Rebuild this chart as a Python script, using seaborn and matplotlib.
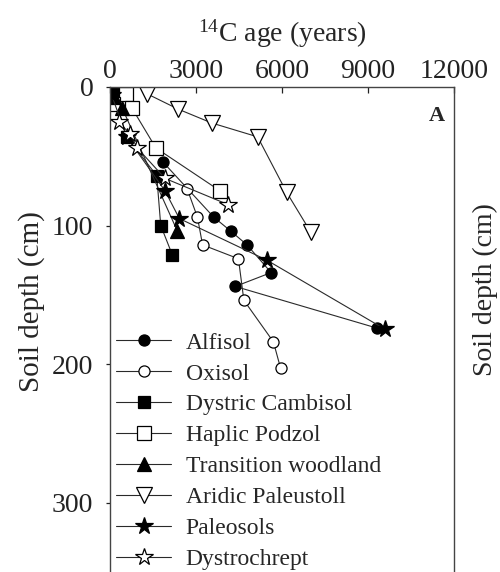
import matplotlib
matplotlib.use("Agg")
import matplotlib.pyplot as plt
import seaborn as sns
import pandas as pd

# 14C age (years) and soil depth (cm) per soil profile
alfisol_age = [1840, 3620, 4210, 4780, 5620, 4370, 9300]
alfisol_depth = [54, 94, 104, 114, 134, 144, 174]

oxisol_age = [2700, 3050, 3230, 4480, 4670, 5700, 5950]
oxisol_depth = [74, 94, 114, 124, 154, 184, 203]

cambisol_age = [100, 580, 1630, 1770, 2170]
cambisol_depth = [4, 36, 64, 100, 121]

podzol_age = [560, 120, 760, 1600, 3840]
podzol_depth = [5, 12, 15, 44, 75]

woodland_age = [150, 420, 2350]
woodland_depth = [7, 15, 104]

paleustoll_age = [1300, 2380, 3550, 5150, 6160, 7010]
paleustoll_depth = [5, 16, 26, 36, 76, 105]

paleosol_age = [60, 580, 1920, 2420, 5470, 9600]
paleosol_depth = [6, 36, 75, 95, 125, 175]

dystrochrept_age = [300, 700, 950, 1920, 4130]
dystrochrept_depth = [25, 34, 44, 66, 85]

series_names = ["Alfisol", "Oxisol", "Dystric Cambisol", "Haplic Podzol",
                "Transition woodland", "Aridic Paleustoll", "Paleosols",
                "Dystrochrept"]
x_ticks = [0, 3000, 6000, 9000, 12000]
y_ticks = [0, 100, 200, 300]

sns.set_style("ticks")
plt.rcParams["font.family"] = ["Liberation Serif", "DejaVu Serif"]
plt.rcParams["mathtext.fontset"] = "custom"
plt.rcParams["mathtext.rm"] = "Liberation Serif"
plt.rcParams["mathtext.it"] = "Liberation Serif:italic"

series = [
    (alfisol_age, alfisol_depth, "o", "black", 8),
    (oxisol_age, oxisol_depth, "o", "white", 8),
    (cambisol_age, cambisol_depth, "s", "black", 8.5),
    (podzol_age, podzol_depth, "s", "white", 9.5),
    (woodland_age, woodland_depth, "^", "black", 10.5),
    (paleustoll_age, paleustoll_depth, "v", "white", 12),
    (paleosol_age, paleosol_depth, "*", "black", 13),
    (dystrochrept_age, dystrochrept_depth, "*", "white", 13),
]

fig = plt.figure(figsize=(5.0, 5.72), dpi=100)
W, H = 500, 572
left, right, top, bottom = 110, 454, 87, 641
ax = fig.add_axes([left / W, 1 - bottom / H, (right - left) / W, (bottom - top) / H])

for name, (age, depth, mk, face, ms) in zip(series_names, series):
    df = pd.DataFrame({"age": age, "depth": depth})
    sns.lineplot(data=df, x="age", y="depth", sort=False, estimator=None,
                 ax=ax, color="#2a2a2a", lw=0.8, marker=mk, markersize=ms,
                 markerfacecolor=face, markeredgecolor="black",
                 markeredgewidth=0.9, label=name)

ax.set_xlim(0, 12000)
ax.set_ylim(400, 0)
ax.set_xticks(x_ticks)
ax.set_yticks(y_ticks)
ax.xaxis.tick_top()
ax.xaxis.set_label_position("top")
ax.tick_params(axis="x", direction="in", length=4, width=0.9, pad=2.5,
               labelsize=20, colors="#222222")
ax.tick_params(axis="y", direction="out", length=3, width=0.9, pad=9,
               labelsize=20, colors="#222222")
for sp in ax.spines.values():
    sp.set_color("#444444")
    sp.set_linewidth(1.0)

ax.set_xlabel(r"$^{14}$C age (years)", fontsize=20, labelpad=12)
ax.set_ylabel("Soil depth (cm)", fontsize=21)
ax.yaxis.set_label_coords(-0.19, (bottom - 302) / (bottom - top))

ax.text(0.975, 0.965, "A", transform=ax.transAxes, ha="right", va="top",
        fontsize=16, fontweight="bold")

# neighbouring panel's axis title along the right edge
fig.text(485 / W, 1 - 290 / H, "Soil depth (cm)", rotation=90,
         ha="center", va="center", fontsize=20)

leg = ax.legend(loc="upper left", bbox_to_anchor=(116 / W, 1 - 332 / H),
                bbox_transform=fig.transFigure, frameon=False, fontsize=17,
                handlelength=2.35, handletextpad=0.6, labelspacing=0.40,
                borderpad=0, borderaxespad=0)

fig.savefig("out.png", dpi=100)
